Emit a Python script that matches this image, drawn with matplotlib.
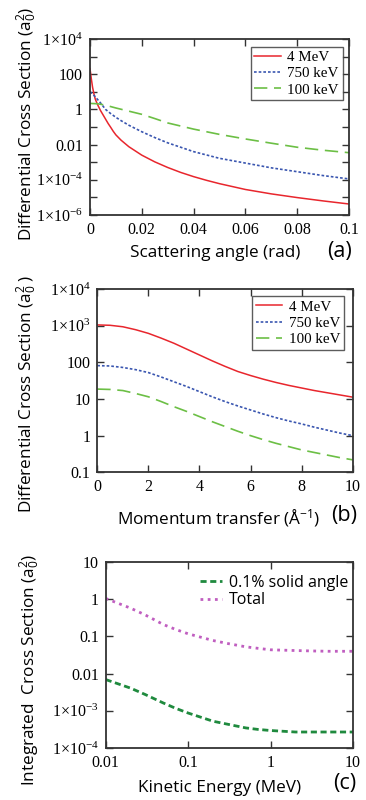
import numpy as np
import matplotlib
matplotlib.use("Agg")
import matplotlib.pyplot as plt
from matplotlib.ticker import FixedLocator, NullLocator

plt.rcParams['font.family'] = ['Liberation Serif', 'DejaVu Serif']
plt.rcParams['mathtext.fontset'] = 'custom'
plt.rcParams['mathtext.rm'] = 'Liberation Serif'
plt.rcParams['mathtext.it'] = 'Liberation Serif:italic'
plt.rcParams['mathtext.sf'] = 'Open Sans'

# ---------------- data ----------------
# (a) differential cross section vs scattering angle (log10 of a0^2)
angle_rad = [0, 0.0005, 0.001, 0.0015, 0.002, 0.0025, 0.003, 0.004, 0.005, 0.006, 0.007, 0.008,
             0.009, 0.01, 0.012, 0.015, 0.02, 0.025, 0.03, 0.035, 0.04, 0.045, 0.05, 0.06,
             0.07, 0.08, 0.09, 0.1]
a_4MeV_log = [2.32, 1.75, 1.25, 0.9, 0.6, 0.42, 0.25, -0.05, -0.3, -0.55, -0.8, -1.02,
              -1.25, -1.45, -1.75, -2.12, -2.6, -2.98, -3.3, -3.58, -3.82, -4.03, -4.22, -4.55,
              -4.8, -5.01, -5.2, -5.375]
angle_b = [0, 0.001, 0.002, 0.003, 0.004, 0.006, 0.008, 0.01, 0.012, 0.015, 0.02, 0.025, 0.03,
           0.04, 0.05, 0.06, 0.07, 0.08, 0.09, 0.1]
a_750keV_log = [1.0, 0.88, 0.72, 0.55, 0.38, 0.0, -0.24, -0.45, -0.64, -0.9, -1.27, -1.6, -1.9,
                -2.4, -2.78, -3.05, -3.32, -3.54, -3.76, -3.95]
angle_g = [0, 0.003, 0.006, 0.01, 0.015, 0.02, 0.025, 0.03, 0.04, 0.05, 0.06, 0.07, 0.08, 0.09, 0.1]
a_100keV_log = [0.34, 0.32, 0.24, 0.08, -0.1, -0.28, -0.52, -0.77, -1.12, -1.42, -1.68, -1.92,
                -2.15, -2.32, -2.46]

# (b) differential cross section vs momentum transfer
momentum = [0, 0.5, 1, 1.5, 2, 2.5, 3, 3.5, 4, 4.5, 5, 5.5, 6, 6.5, 7, 7.5, 8, 8.5, 9, 9.5, 10]
b_4MeV_log = [3.02, 3.01, 2.97, 2.89, 2.79, 2.66, 2.52, 2.36, 2.2, 2.04, 1.89, 1.75, 1.64,
              1.54, 1.45, 1.37, 1.3, 1.23, 1.17, 1.11, 1.05]
b_750keV_log = [1.91, 1.9, 1.86, 1.8, 1.72, 1.6, 1.47, 1.34, 1.2, 1.06, 0.93, 0.81, 0.7,
                0.59, 0.49, 0.4, 0.32, 0.23, 0.15, 0.07, 0.0]
b_100keV_log = [1.27, 1.26, 1.23, 1.15, 1.06, 0.93, 0.79, 0.66, 0.52, 0.38, 0.25, 0.12, 0.0,
                -0.11, -0.21, -0.3, -0.39, -0.46, -0.53, -0.6, -0.66]

# (c) integrated cross section vs kinetic energy
energy_MeV = [0.01, 0.02, 0.03, 0.05, 0.07, 0.1, 0.2, 0.3, 0.5, 0.7, 1, 2, 3, 5, 10]
c_solid_log = [-2.16, -2.39, -2.56, -2.79, -2.93, -3.06, -3.28, -3.36, -3.46, -3.5, -3.53,
               -3.57, -3.57, -3.57, -3.57]
c_total_log = [0.02, -0.24, -0.42, -0.68, -0.81, -0.93, -1.11, -1.19, -1.28, -1.32, -1.36,
               -1.38, -1.39, -1.40, -1.40]

labels_ab = ['4 MeV', '750 keV', '100 keV']
labels_c = ['0.1% solid angle', 'Total']

# ---------------- styling ----------------
W, H = 366, 800
RED = '#e8262d'
BLUE = '#3a56b0'
GREEN = '#6cbf45'
PINK = '#c05ec0'
DKGREEN = '#1f8a3e'
SERIF = 'Liberation Serif'
SANS = 'Open Sans'
TICKFS = 11.5
LABFS = 12.3

fig = plt.figure(figsize=(W / 100, H / 100), dpi=100)


def rect(l, r, t, b):
    return [l / W, 1 - b / H, (r - l) / W, (b - t) / H]


def style(ax):
    for s in ax.spines.values():
        s.set_linewidth(1.3)
        s.set_color('#333333')
    ax.tick_params(which='both', direction='in', top=True, right=True,
                   length=5, width=1.0, color='#333333', labelsize=TICKFS, pad=5)
    for t in ax.get_xticklabels() + ax.get_yticklabels():
        t.set_fontfamily(SERIF)


def logfmt(e):
    if e >= 3 or e <= -3:
        return r'$1{\times}10^{%d}$' % e
    v = 10.0 ** e
    if e >= 0:
        return '%d' % round(v)
    return ('%.' + str(-e) + 'f') % v


def set_logy(ax, lo, hi, labeled):
    ax.set_yscale('log')
    ax.set_ylim(10.0 ** lo, 10.0 ** hi)
    exps = list(range(lo, hi + 1))
    ax.yaxis.set_major_locator(FixedLocator([10.0 ** e for e in exps]))
    ax.yaxis.set_minor_locator(NullLocator())
    ax.set_yticklabels([logfmt(e) if e in labeled else '' for e in exps])


def p(lst):
    return 10.0 ** np.array(lst)


def boxed_legend(ax, anchor):
    leg = ax.legend(loc='upper right', bbox_to_anchor=anchor, prop={'family': SERIF, 'size': 10.8},
                    frameon=True, fancybox=False, handlelength=1.75, handletextpad=0.45,
                    borderpad=0.25, labelspacing=0.18, borderaxespad=0)
    leg.get_frame().set_edgecolor('#333333')
    leg.get_frame().set_linewidth(1.0)
    return leg


# ---- (a) ----
axa = fig.add_axes(rect(90, 349, 39, 215))
axa.plot(angle_rad, p(a_4MeV_log), color=RED, lw=1.1, label=labels_ab[0])
axa.plot(angle_b, p(a_750keV_log), color=BLUE, lw=1.2, ls=(0, (1.6, 1.2)), label=labels_ab[1])
axa.plot(angle_g, p(a_100keV_log), color=GREEN, lw=1.2, ls=(0, (8, 4)), label=labels_ab[2])
axa.set_xlim(0, 0.1)
axa.set_xticks([0, 0.02, 0.04, 0.06, 0.08, 0.1])
axa.set_xticklabels(['0', '0.02', '0.04', '0.06', '0.08', '0.1'])
set_logy(axa, -6, 4, [4, 2, 0, -2, -4, -6])
style(axa)
boxed_legend(axa, (0.975, 0.955))
fig.text(27 / W, 1 - 124 / H, r'Differential Cross Section (a$_\mathsf{0}^\mathsf{2}$)',
         rotation=90, ha='center', va='center', family=SANS, fontsize=LABFS)
fig.text(215 / W, 1 - 253 / H, 'Scattering angle (rad)', ha='center', va='center',
         family=SANS, fontsize=LABFS)
fig.text(339 / W, 1 - 251 / H, '(a)', ha='center', va='center', family=SANS, fontsize=15.5)

# ---- (b) ----
axb = fig.add_axes(rect(97.3, 352.7, 289, 472.3))
axb.plot(momentum, p(b_4MeV_log), color=RED, lw=1.1, label=labels_ab[0])
axb.plot(momentum, p(b_750keV_log), color=BLUE, lw=1.2, ls=(0, (1.6, 1.2)), label=labels_ab[1])
axb.plot(momentum, p(b_100keV_log), color=GREEN, lw=1.2, ls=(0, (8, 4)), label=labels_ab[2])
axb.set_xlim(0, 10)
axb.set_xticks([0, 2, 4, 6, 8, 10])
set_logy(axb, -1, 4, [-1, 0, 1, 2, 3, 4])
style(axb)
boxed_legend(axb, (0.965, 0.96))
fig.text(27 / W, 1 - 394 / H, r'Differential Cross Section (a$_\mathsf{0}^\mathsf{2}$ )',
         rotation=90, ha='center', va='center', family=SANS, fontsize=LABFS)
fig.text(219 / W, 1 - 517 / H, r'Momentum transfer (Å$^\mathsf{-1}$)', ha='center', va='center',
         family=SANS, fontsize=LABFS)
fig.text(344 / W, 1 - 515 / H, '(b)', ha='center', va='center', family=SANS, fontsize=15.5)

# ---- (c) ----
axc = fig.add_axes(rect(105.7, 353, 562, 748))
axc.plot(energy_MeV, p(c_solid_log), color=DKGREEN, lw=2.0, ls=(0, (2.2, 1.3)), label=labels_c[0])
axc.plot(energy_MeV, p(c_total_log), color=PINK, lw=2.0, ls=(0, (1.0, 1.6)), label=labels_c[1])
axc.set_xscale('log')
axc.set_xlim(0.01, 10)
axc.xaxis.set_major_locator(FixedLocator([0.01, 0.1, 1, 10]))
axc.xaxis.set_minor_locator(NullLocator())
axc.set_xticklabels(['0.01', '0.1', '1', '10'])
set_logy(axc, -4, 1, [-4, -3, -2, -1, 0, 1])
style(axc)
axc.legend(loc='upper left', bbox_to_anchor=(0.355, 0.965), prop={'family': SANS, 'size': 11.5},
           frameon=False, handlelength=1.4, handletextpad=0.4, labelspacing=0.1, borderaxespad=0)
fig.text(30 / W, 1 - 670 / H, r'Integrated  Cross Section (a$_\mathsf{0}^\mathsf{2}$)',
         rotation=90, ha='center', va='center', family=SANS, fontsize=LABFS)
fig.text(220 / W, 1 - 788 / H, 'Kinetic Energy (MeV)', ha='center', va='center',
         family=SANS, fontsize=LABFS)
fig.text(345 / W, 1 - 784 / H, '(c)', ha='center', va='center', family=SANS, fontsize=15.5)

fig.savefig('out.png', dpi=100)
